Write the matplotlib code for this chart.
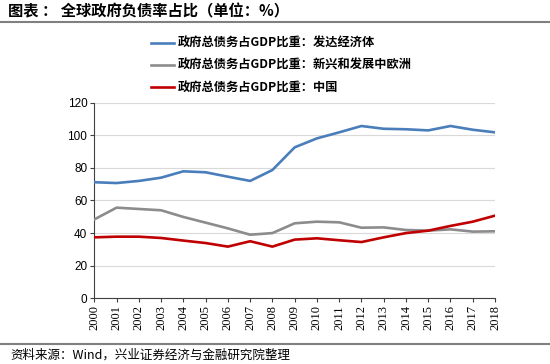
import matplotlib
matplotlib.use("Agg")
import matplotlib.pyplot as plt
from matplotlib.lines import Line2D

plt.rcParams['font.family'] = ['Noto Sans CJK SC', 'DejaVu Sans']

years = [str(y) for y in range(2000, 2019)]
developed = [71.2, 70.7, 72.0, 74.0, 77.9, 77.3, 74.6, 72.0, 78.7, 92.6, 98.1, 101.8,
             105.7, 104.0, 103.7, 103.0, 105.7, 103.4, 101.8]
emerging = [48.4, 55.6, 54.8, 54.0, 49.9, 46.4, 42.9, 39.0, 40.0, 46.0, 47.0, 46.6,
            43.3, 43.5, 41.9, 41.5, 42.3, 40.9, 41.1]
china = [37.4, 37.8, 37.8, 37.0, 35.4, 33.9, 31.7, 35.0, 31.7, 36.0, 36.8, 35.6,
         34.5, 37.4, 40.0, 41.5, 44.4, 47.0, 50.7]
labels = ["政府总债务占GDP比重：发达经济体",
          "政府总债务占GDP比重：新兴和发展中欧洲",
          "政府总债务占GDP比重：中国"]
colors = ["#4A7EBB", "#8C8C8C", "#C00000"]
yticks = [0, 20, 40, 60, 80, 100, 120]

fig = plt.figure(figsize=(5.5, 3.64), dpi=100)
ax = fig.add_axes([0.1715, 0.1805, 0.9 - 0.1715, 0.7179 - 0.1805])
x = list(range(len(years)))
for s, c in zip([developed, emerging, china], colors):
    ax.plot(x, s, color=c, lw=1.9, solid_joinstyle='round', zorder=3)

ax.set_xlim(0, len(years) - 1)
ax.set_ylim(0, 120)
ax.set_yticks(yticks)
ax.set_yticklabels([str(v) for v in yticks], fontfamily='Liberation Sans', fontsize=8.5)
ax.set_xticks(x)
ax.set_xticklabels(years, rotation=90, fontfamily='Liberation Serif', fontsize=9)
ax.grid(axis='y', color='#D9D9D9', lw=0.8, zorder=0)
for side in ['top', 'right']:
    ax.spines[side].set_visible(False)
for side in ['left', 'bottom']:
    ax.spines[side].set_color('#404040')
    ax.spines[side].set_linewidth(0.8)
ax.tick_params(axis='both', direction='out', length=3, width=0.8, color='#404040', pad=2)

# legend
handles = [Line2D([0], [0], color=c, lw=1.9) for c in colors]
fig.legend(handles, labels, loc='upper left', bbox_to_anchor=(146 / 550, 1 - 32 / 364),
           frameon=False, prop={'size': 8.8, 'weight': 'bold'}, handlelength=1.9,
           handletextpad=0.3, labelspacing=0.75, borderaxespad=0)

# title & decorations
fig.text(8 / 550, 1 - 11 / 364, "图表 ： 全球政府负债率占比（单位：%）", fontsize=11,
         fontweight='bold', va='center', ha='left')
fig.add_artist(Line2D([0, 1], [1 - 22 / 364, 1 - 22 / 364], transform=fig.transFigure,
                      color='#808080', lw=1.5))
fig.add_artist(Line2D([0, 1], [1 - 344 / 364, 1 - 344 / 364], transform=fig.transFigure,
                      color='#808080', lw=1.5))
fig.text(10 / 550, 1 - 355 / 364, "资料来源：Wind，兴业证券经济与金融研究院整理", fontsize=9,
         va='center', ha='left')

fig.savefig("out.png", dpi=100)
